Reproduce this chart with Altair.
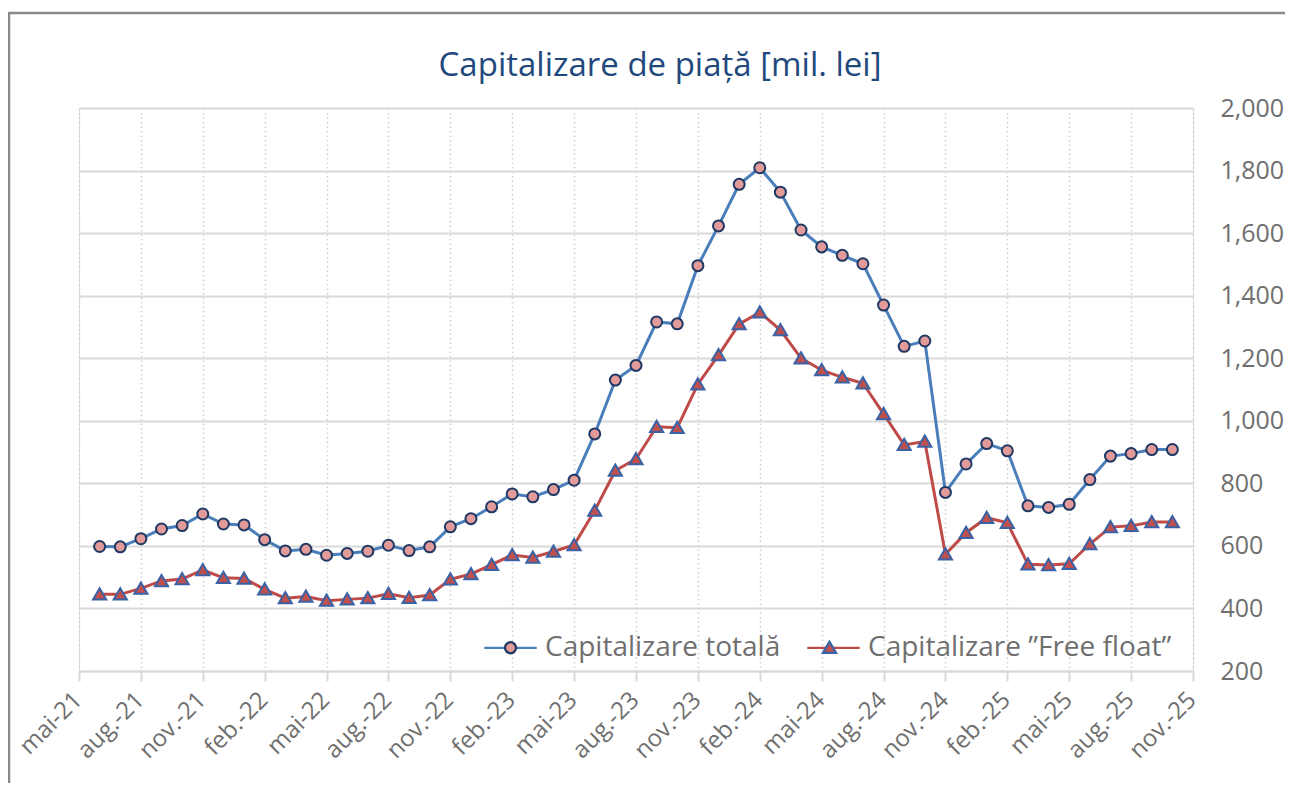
import altair as alt
import pandas as pd

# ---- data ----
series_names = ["Capitalizare totală", "Capitalizare ”Free float”"]

# months: 1 = iun.-21 ... 53 = oct.-25 (0 = mai-21)
month_index = list(range(1, 54))

total = [598, 597, 623, 654, 665, 702, 670, 667, 620, 584,
         589, 570, 576, 583, 602, 585, 597, 661, 687, 725,
         766, 757, 780, 810, 958, 1130, 1177, 1316, 1310, 1496,
         1623, 1756, 1809, 1731, 1610, 1556, 1529, 1502, 1370, 1238,
         1255, 771, 862, 927, 904, 728, 723, 733, 812, 887,
         895, 908, 908]

free_float = [445, 445, 464, 488, 494, 523, 498, 496, 461, 433,
              438, 425, 429, 433, 447, 434, 443, 493, 510, 540,
              571, 563, 582, 603, 713, 841, 878, 981, 978, 1117,
              1210, 1309, 1347, 1290, 1200, 1162, 1139, 1120, 1022, 923,
              934, 573, 642, 690, 674, 541, 539, 543, 606, 660,
              664, 676, 676]

tick_values = list(range(0, 55, 3))
tick_labels = ["mai-21", "aug.-21", "nov.-21", "feb.-22", "mai-22", "aug.-22",
               "nov.-22", "feb.-23", "mai-23", "aug.-23", "nov.-23", "feb.-24",
               "mai-24", "aug.-24", "nov.-24", "feb.-25", "mai-25", "aug.-25",
               "nov.-25"]

y_ticks = [200, 400, 600, 800, 1000, 1200, 1400, 1600, 1800, 2000]

# ---- table ----
rows = []
for m, v in zip(month_index, total):
    rows.append({"m": m, "v": v, "series": series_names[0]})
for m, v in zip(month_index, free_float):
    rows.append({"m": m, "v": v, "series": series_names[1]})
df = pd.DataFrame(rows)
# marker legend uses a separate (invisible-suffixed) domain so it is not merged
ZW = "\u200b"
marker_names = [s + ZW for s in series_names]
df["series_m"] = df["series"] + ZW

FONT = "Open Sans"
GRAY = "#6f6f6f"
line_colors = ["#4a7ebb", "#be4b48"]
fill_colors = ["#e39b99", "#c0504d"]
stroke_colors = ["#1f3864", "#3a62a6"]

label_js = "[" + ",".join("'" + t + "'" for t in tick_labels) + "]"

x_enc = alt.X("m:Q",
              scale=alt.Scale(domain=[0, 54], nice=False, zero=False),
              axis=alt.Axis(values=tick_values, title=None,
                            labelExpr=label_js + "[round(datum.value/3)]",
                            labelAngle=315, labelAlign="right", labelBaseline="middle",
                            labelPadding=15, labelOffset=-1, labelOverlap=False,
                            labelFont=FONT, labelFontSize=24, labelColor=GRAY,
                            domainColor="#d9d9d9", domainWidth=2,
                            tickColor="#d9d9d9", tickWidth=2, tickSize=10,
                            grid=True, gridColor="#cfcfcf", gridDash=[1.5, 3],
                            gridWidth=1.5))
y_enc = alt.Y("v:Q",
              scale=alt.Scale(domain=[200, 2000], nice=False, zero=False),
              axis=alt.Axis(orient="right", values=y_ticks, title=None,
                            format=",d", domain=False, ticks=False,
                            labelPadding=27, labelFont=FONT, labelFontSize=25,
                            labelColor=GRAY, labelAlign="left",
                            grid=True, gridColor="#d9d9d9", gridWidth=2))

LEG_X = 404
LEG_Y = 512
SYM = 2750
SW = 2.25

legend_common = dict(orient="none", legendX=LEG_X, legendY=LEG_Y,
                     direction="horizontal", title=None, padding=0,
                     symbolSize=SYM, symbolStrokeWidth=SW,
                     labelFont=FONT, labelFontSize=28, labelOffset=7,
                     labelLimit=500, columnPadding=21)

lines = alt.Chart(df).mark_line(strokeWidth=3).encode(
    x=x_enc, y=y_enc,
    color=alt.Color("series:N",
                    scale=alt.Scale(domain=series_names, range=line_colors),
                    legend=alt.Legend(symbolType="stroke", labelColor=GRAY,
                                      **legend_common)),
    detail="series:N",
)

# marker paths in the unit square, scaled by the mark size
circ = "M0.21,0A0.21,0.21 0 1,1 -0.21,0A0.21,0.21 0 1,1 0.21,0Z"
tri = "M0,-0.23L0.25,0.2L-0.25,0.2Z"

legend_b = alt.Legend(labelColor="transparent", **legend_common)

points = alt.Chart(df).mark_point(filled=True, strokeWidth=2, opacity=1).encode(
    x="m:Q", y="v:Q",
    fill=alt.Fill("series_m:N",
                  scale=alt.Scale(domain=marker_names, range=fill_colors),
                  legend=legend_b),
    stroke=alt.Stroke("series_m:N",
                      scale=alt.Scale(domain=marker_names, range=stroke_colors),
                      legend=legend_b),
    shape=alt.Shape("series_m:N",
                    scale=alt.Scale(domain=marker_names, range=[circ, tri]),
                    legend=legend_b),
    size=alt.value(SYM),
)

frame = alt.Chart(pd.DataFrame({"a": [0]})).mark_rect(
    fill=None, stroke="#8a8a8a", strokeWidth=2.5).encode(
    x=alt.value(-70), x2=alt.value(1400), y=alt.value(-95), y2=alt.value(1000))

chart = alt.layer(frame, lines, points).properties(
    width=1114, height=563,
    padding={"left": 71, "top": 100, "right": 92, "bottom": 112},
    autosize=alt.AutoSizeParams(type="none"),
    title=alt.TitleParams("Capitalizare de piață [mil. lei]", font=FONT,
                          fontSize=33, fontWeight="normal", color="#1f497d",
                          anchor="middle", dx=24, offset=-71),
).configure_view(stroke=None).configure(background="white")

chart.save("out.html", embed_options={"renderer": "svg", "actions": False})
